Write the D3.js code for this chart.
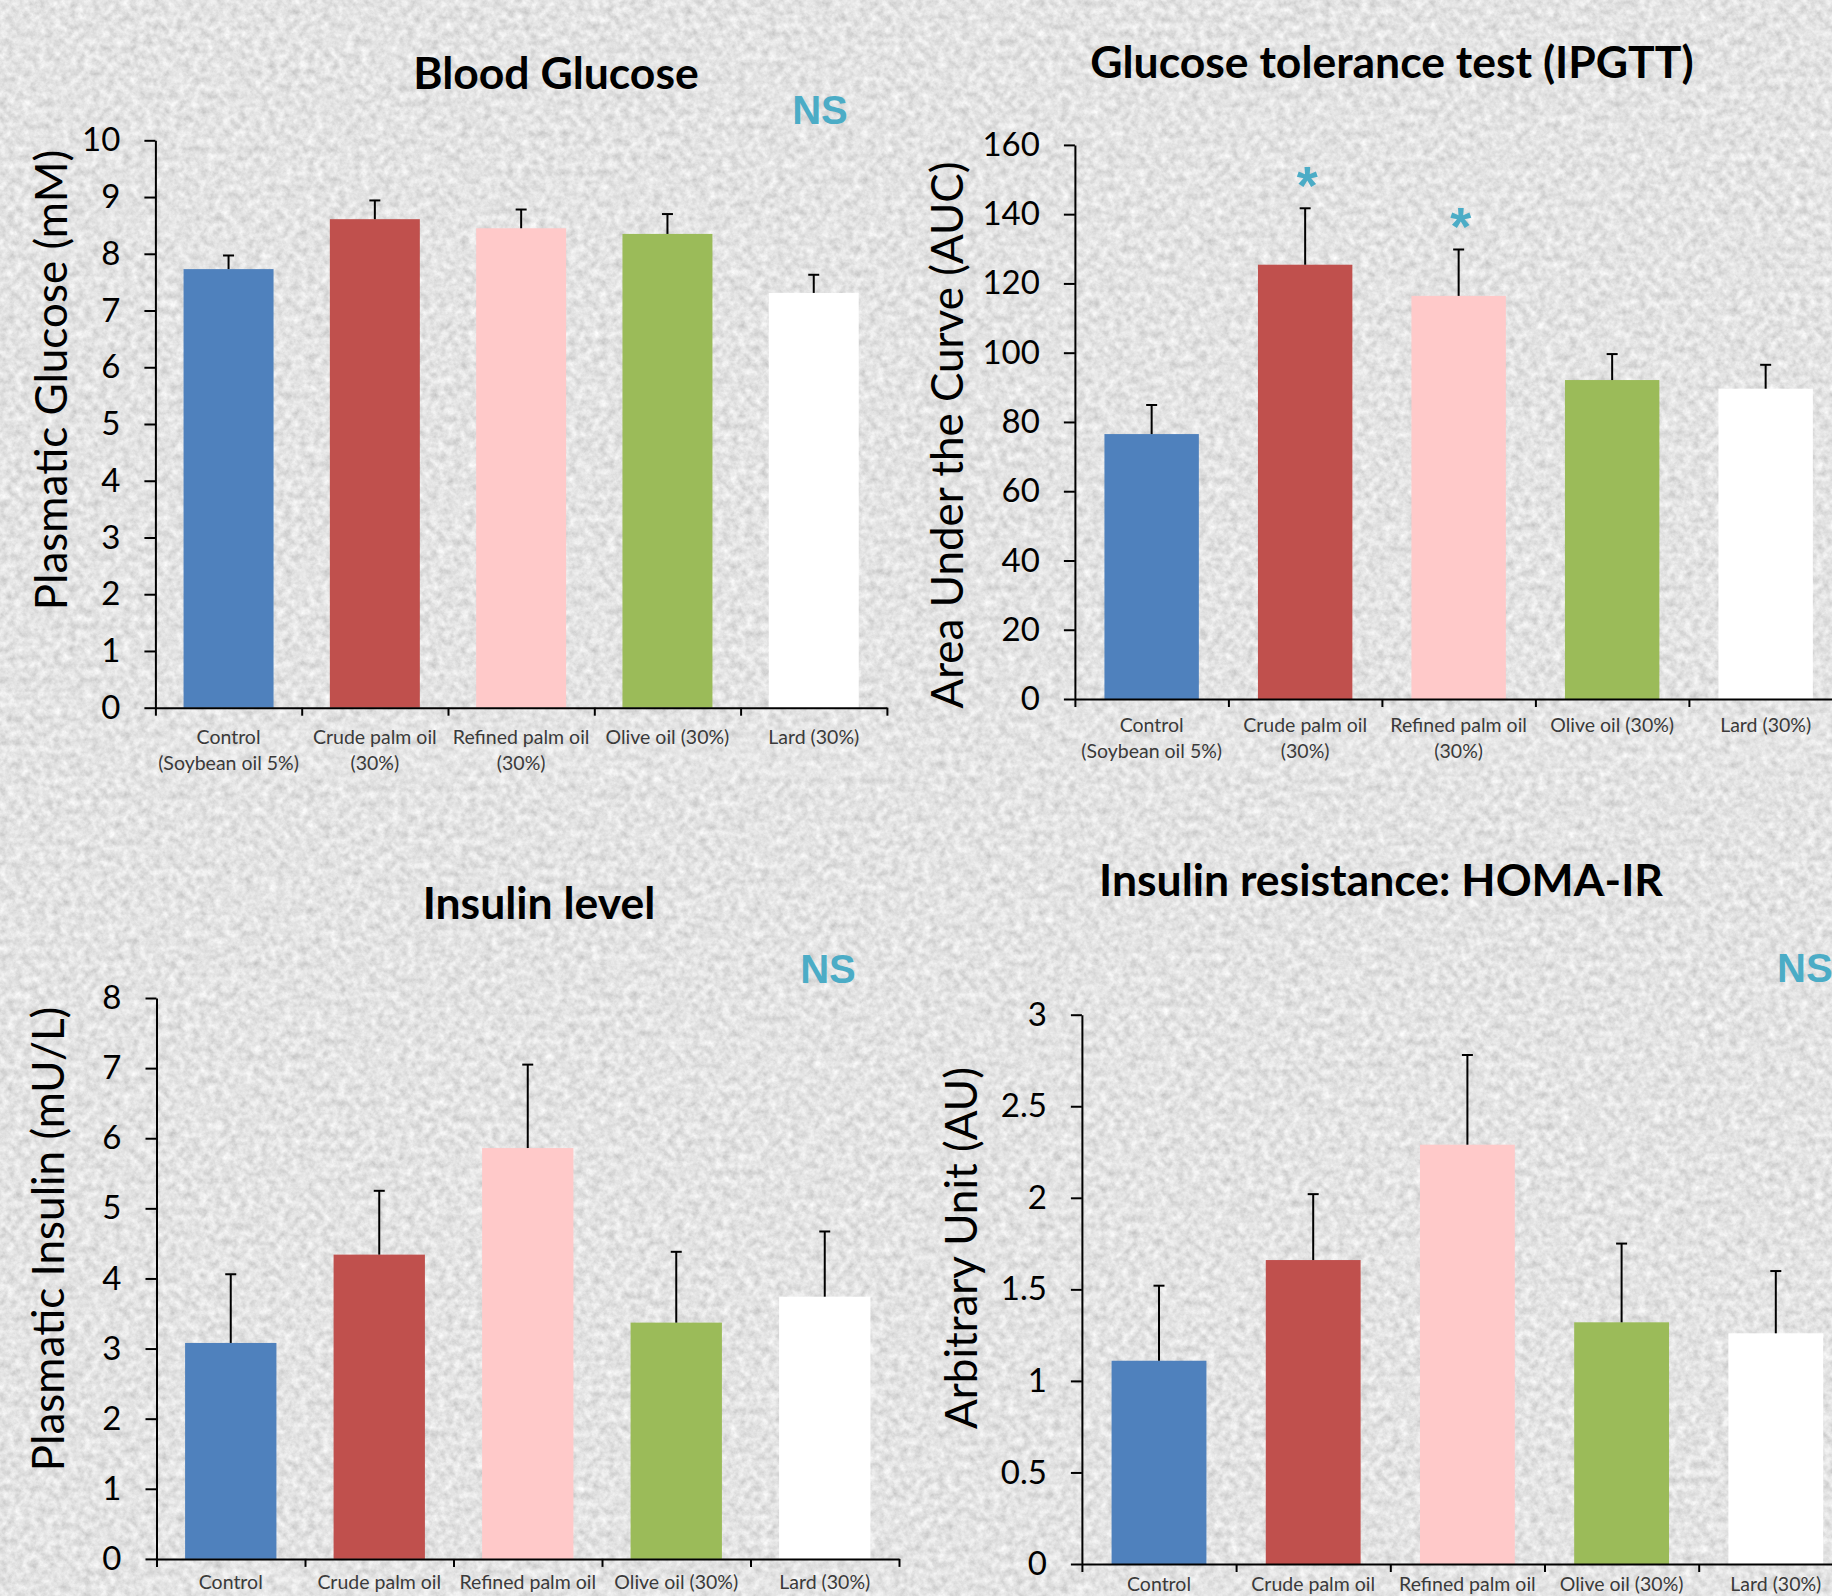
<!DOCTYPE html>
<html>
<head>
<meta charset="utf-8">
<script src="https://cdn.jsdelivr.net/npm/d3@7"></script>
<style>
  html, body { margin: 0; padding: 0; background: #c4c4c4; }
  svg { display: block; }
</style>
</head>
<body>
<svg id="chart" width="1832" height="1596"></svg>
<script>
// Data
var groupLines = [
  ["Control", "(Soybean oil 5%)"],
  ["Crude palm oil", "(30%)"],
  ["Refined palm oil", "(30%)"],
  ["Olive oil (30%)"],
  ["Lard (30%)"]
];
var barColors = ["#4f81bd", "#c0504d", "#ffc9c9", "#9bbb59", "#ffffff"];

var glucoseMean = [7.73, 8.61, 8.45, 8.35, 7.31];
var glucoseSem  = [0.24, 0.33, 0.33, 0.35, 0.32];
var glucoseTicks = [0, 1, 2, 3, 4, 5, 6, 7, 8, 9, 10];

var aucMean = [76.5, 125.4, 116.4, 92.1, 89.6];
var aucSem  = [8.4, 16.3, 13.4, 7.5, 6.9];
var aucStars = ["", "*", "*", "", ""];
var aucTicks = [0, 20, 40, 60, 80, 100, 120, 140, 160];

var insulinMean = [3.08, 4.34, 5.86, 3.37, 3.74];
var insulinSem  = [0.98, 0.91, 1.19, 1.01, 0.93];
var insulinTicks = [0, 1, 2, 3, 4, 5, 6, 7, 8];

var homaMean = [1.11, 1.66, 2.29, 1.32, 1.26];
var homaSem  = [0.41, 0.36, 0.49, 0.43, 0.34];
var homaTicks = [0, 0.5, 1, 1.5, 2, 2.5, 3];

var svg = d3.select("#chart");
var W = 1832, H = 1596;

// granite-like slide background
var defs = svg.append("defs");
var f = defs.append("filter").attr("id", "granite")
    .attr("x", 0).attr("y", 0).attr("width", "100%").attr("height", "100%");
f.append("feTurbulence")
    .attr("type", "fractalNoise")
    .attr("baseFrequency", 0.13)
    .attr("numOctaves", 4)
    .attr("seed", 7);
f.append("feColorMatrix")
    .attr("type", "matrix")
    .attr("values", "0.5 0 0 0 0.52  0.5 0 0 0 0.52  0.5 0 0 0 0.52  0 0 0 0 1");

svg.append("rect").attr("width", W).attr("height", H).attr("fill", "#c4c4c4");
svg.append("rect").attr("width", W).attr("height", H).attr("filter", "url(#granite)");

var panels = [
  { mean: glucoseMean, sem: glucoseSem, ticks: glucoseTicks, max: 10,
    x0: 155.4, step: 146.3, yBottom: 707.7, yTop: 140.3,
    title: "Blood Glucose", titleX: 556, titleY: 89,
    ns: { x: 820, y: 124, anchor: "middle" },
    ylabel: "Plasmatic Glucose (mM)", ylabelX: 67, ylabelY: 380,
    xlabelY: 744, lines: 2 },
  { mean: aucMean, sem: aucSem, ticks: aucTicks, max: 160, stars: aucStars,
    x0: 1074.9, step: 153.5, yBottom: 699, yTop: 144.9,
    title: "Glucose tolerance test (IPGTT)", titleX: 1392, titleY: 77.5,
    ylabel: "Area Under the Curve (AUC)", ylabelX: 963, ylabelY: 435,
    xlabelY: 732, lines: 2 },
  { mean: insulinMean, sem: insulinSem, ticks: insulinTicks, max: 8,
    x0: 156.5, step: 148.5, yBottom: 1558.9, yTop: 998,
    title: "Insulin level", titleX: 539, titleY: 919.3,
    ns: { x: 828, y: 982.7, anchor: "middle" },
    ylabel: "Plasmatic Insulin (mU/L)", ylabelX: 64, ylabelY: 1239,
    xlabelY: 1589, lines: 1 },
  { mean: homaMean, sem: homaSem, ticks: homaTicks, max: 3,
    x0: 1081.9, step: 154.2, yBottom: 1564, yTop: 1014.7,
    title: "Insulin resistance: HOMA-IR", titleX: 1381, titleY: 896.4,
    ns: { x: 1777, y: 982.3, anchor: "start" },
    ylabel: "Arbitrary Unit (AU)", ylabelX: 977, ylabelY: 1248,
    xlabelY: 1591, lines: 1 }
];

panels.forEach(drawPanel);

function drawPanel(p) {
  var g = svg.append("g");
  var x1 = p.x0 + 5 * p.step;

  var x = d3.scaleBand()
      .domain(d3.range(5))
      .range([p.x0, x1])
      .paddingInner(0.385)
      .paddingOuter(0.1925);
  var y = d3.scaleLinear()
      .domain([0, p.max])
      .range([p.yBottom, p.yTop]);

  // faint label box under the category axis
  g.append("rect")
      .attr("x", p.x0 - 3)
      .attr("y", p.yBottom + 14)
      .attr("width", x1 - p.x0)
      .attr("height", 58)
      .attr("fill", "#ffffff")
      .attr("opacity", 0.07);

  // bars
  g.selectAll(".bar")
    .data(p.mean)
    .enter().append("rect")
      .attr("class", "bar")
      .attr("x", function(d, i) { return x(i); })
      .attr("y", function(d) { return y(d); })
      .attr("width", x.bandwidth())
      .attr("height", function(d) { return p.yBottom - y(d); })
      .attr("fill", function(d, i) { return barColors[i]; });

  // error bars (upper only)
  var err = g.selectAll(".err")
    .data(p.mean)
    .enter().append("g")
      .attr("class", "err")
      .attr("transform", function(d, i) { return "translate(" + (x(i) + x.bandwidth() / 2) + ",0)"; });
  err.append("line")
      .attr("y1", function(d) { return y(d); })
      .attr("y2", function(d, i) { return y(d + p.sem[i]); })
      .attr("stroke", "#000").attr("stroke-width", 2);
  err.append("line")
      .attr("x1", -5.5).attr("x2", 5.5)
      .attr("y1", function(d, i) { return y(d + p.sem[i]); })
      .attr("y2", function(d, i) { return y(d + p.sem[i]); })
      .attr("stroke", "#000").attr("stroke-width", 2);

  if (p.stars) {
    g.selectAll(".star")
      .data(p.mean)
      .enter().append("text")
        .attr("class", "star")
        .attr("x", function(d, i) { return x(i) + x.bandwidth() / 2 + 2; })
        .attr("y", function(d, i) { return y(d + p.sem[i]) - 34 + 30; })
        .attr("text-anchor", "middle")
        .attr("font-family", "'Liberation Sans', Arial, sans-serif")
        .attr("font-weight", "bold")
        .attr("font-size", 54)
        .attr("fill", "#4bacc6")
        .text(function(d, i) { return p.stars[i]; });
  }

  // y axis
  var yAxis = g.append("g")
      .attr("transform", "translate(" + p.x0 + ",0)")
      .call(d3.axisLeft(y)
        .tickValues(p.ticks)
        .tickFormat(function(d) { return String(d); })
        .tickSize(11)
        .tickSizeOuter(0)
        .tickPadding(24));
  yAxis.selectAll("path, line").attr("stroke", "#000").attr("stroke-width", 2);
  yAxis.selectAll("text")
      .attr("font-family", "Lato, 'Open Sans', sans-serif")
      .attr("font-size", 33)
      .attr("fill", "#000");

  // category axis, ticks at group boundaries
  var xb = d3.scaleLinear().domain([0, 5]).range([p.x0, x1]);
  var xAxis = g.append("g")
      .attr("transform", "translate(0," + p.yBottom + ")")
      .call(d3.axisBottom(xb)
        .tickValues(d3.range(6))
        .tickFormat("")
        .tickSize(8)
        .tickSizeOuter(0));
  xAxis.selectAll("path, line").attr("stroke", "#000").attr("stroke-width", 2);

  // category labels (bottom row is cropped by the slide edge)
  var lab = g.selectAll(".xlab")
    .data(groupLines)
    .enter().append("text")
      .attr("class", "xlab")
      .attr("text-anchor", "middle")
      .attr("font-family", "Lato, 'Open Sans', sans-serif")
      .attr("font-size", 19.5)
      .attr("fill", "#3a3a3a")
      .attr("y", p.xlabelY);
  lab.selectAll("tspan")
    .data(function(d, i) { return d.slice(0, p.lines).map(function(s) { return { s: s, i: i }; }); })
    .enter().append("tspan")
      .attr("x", function(d) { return x(d.i) + x.bandwidth() / 2; })
      .attr("dy", function(d, k) { return k === 0 ? 0 : 25.5; })
      .text(function(d) { return d.s; });

  // y label
  g.append("text")
      .attr("transform", "translate(" + p.ylabelX + "," + p.ylabelY + ") rotate(-90)")
      .attr("text-anchor", "middle")
      .attr("font-family", "Lato, 'Open Sans', sans-serif")
      .attr("font-size", 44)
      .attr("fill", "#000")
      .text(p.ylabel);

  // title
  g.append("text")
      .attr("x", p.titleX)
      .attr("y", p.titleY)
      .attr("text-anchor", "middle")
      .attr("font-family", "Lato, 'Open Sans', sans-serif")
      .attr("font-weight", "bold")
      .attr("font-size", 44.5)
      .attr("fill", "#000")
      .text(p.title);

  if (p.ns) {
    g.append("text")
        .attr("x", p.ns.x)
        .attr("y", p.ns.y)
        .attr("text-anchor", p.ns.anchor)
        .attr("font-family", "'Liberation Sans', Arial, sans-serif")
        .attr("font-weight", "bold")
        .attr("font-size", 40)
        .attr("fill", "#4bacc6")
        .text("NS");
  }
}
</script>
</body>
</html>
